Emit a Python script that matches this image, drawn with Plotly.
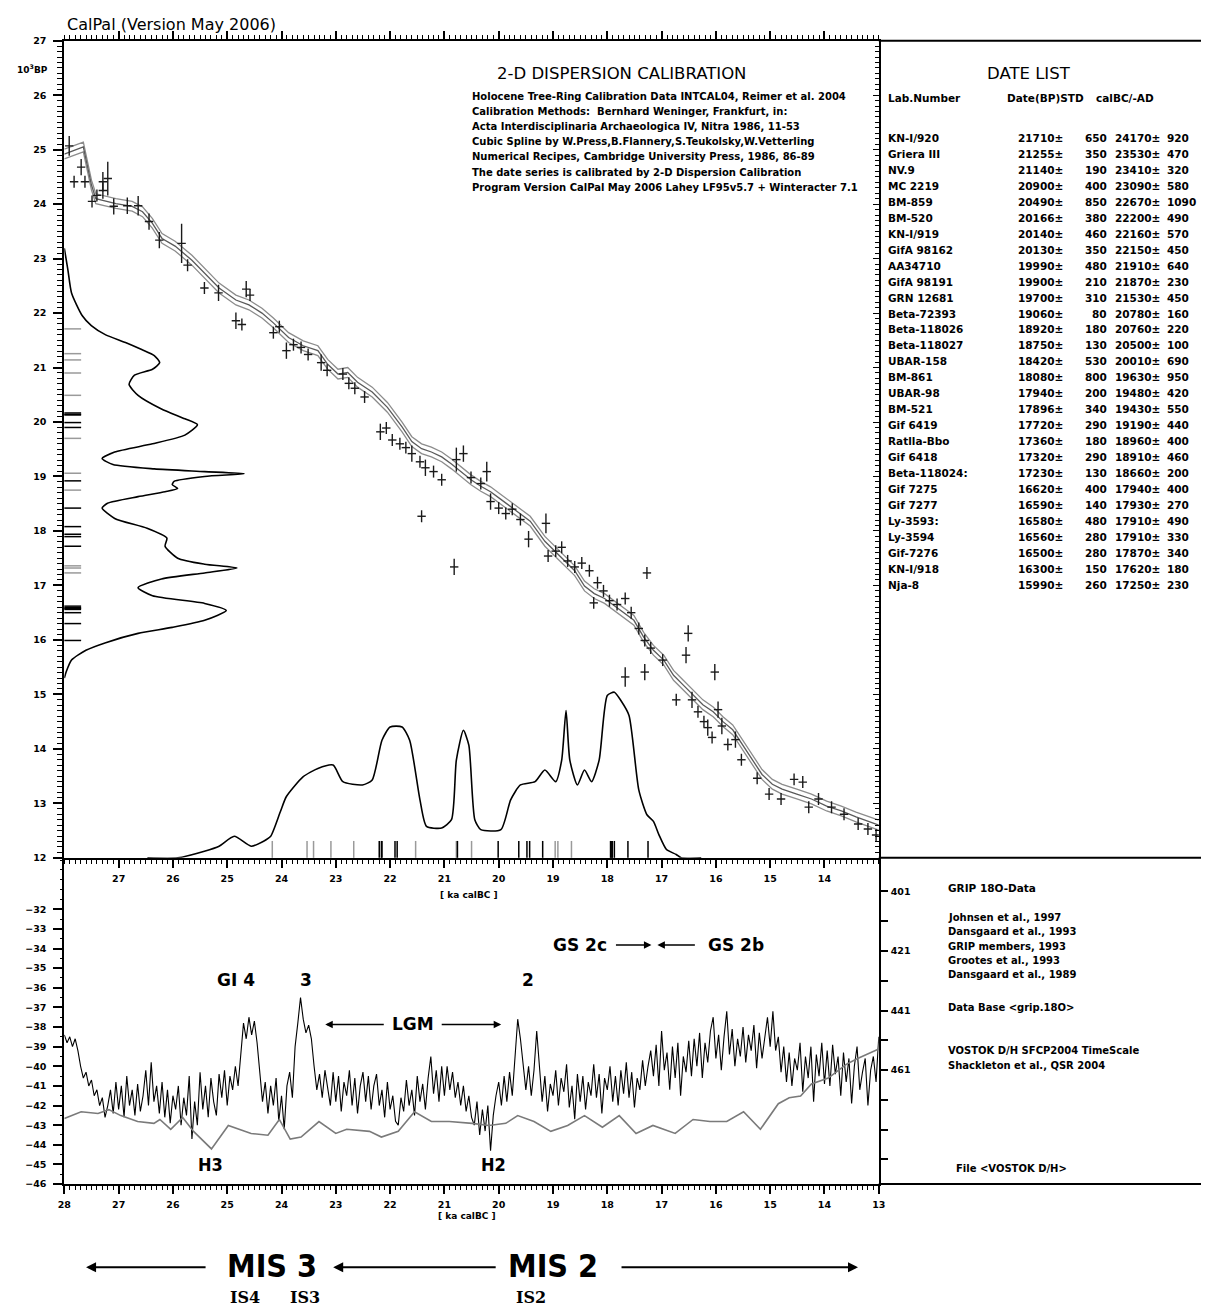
import plotly.graph_objects as go

W, H = 1208, 1315

# ---------------- data ----------------
# calibration curve (ka calBC -> 10^3 BP)
CURVE_CAL = [28.00, 27.80, 27.65, 27.50, 27.42, 27.05, 26.75, 26.56, 26.38, 26.20, 25.96, 25.65, 25.42,
             25.15, 24.84, 24.60, 24.36, 24.15, 23.87, 23.60, 23.33, 23.15, 22.96, 22.78, 22.60, 22.33,
             22.05, 21.78, 21.60, 21.42, 21.24, 21.05, 20.87, 20.69, 20.51, 20.33, 20.15, 19.96, 19.78,
             19.60, 19.42, 19.15, 18.96, 18.78, 18.60, 18.42, 18.24, 18.05, 17.87, 17.69, 17.51, 17.33,
             17.15, 16.96, 16.78, 16.60, 16.42, 16.24, 16.05, 15.87, 15.69, 15.51, 15.33, 15.15, 14.96,
             14.78, 14.51, 14.24, 13.96, 13.69, 13.42, 13.00]
CURVE_BP = [24.92, 25.00, 25.05, 24.35, 24.10, 24.01, 23.96, 23.86, 23.65, 23.37, 23.23, 22.97, 22.73,
            22.46, 22.24, 22.15, 22.00, 21.82, 21.55, 21.40, 21.31, 21.06, 20.88, 20.91, 20.73, 20.55,
            20.27, 19.91, 19.64, 19.51, 19.45, 19.36, 19.23, 19.09, 18.94, 18.82, 18.72, 18.58, 18.45,
            18.31, 18.18, 17.81, 17.63, 17.45, 17.27, 16.99, 16.85, 16.76, 16.63, 16.50, 16.36, 16.05,
            15.81, 15.63, 15.35, 15.17, 14.99, 14.81, 14.68, 14.50, 14.35, 14.08, 13.80, 13.53, 13.35,
            13.26, 13.17, 13.08, 12.95, 12.86, 12.75, 12.60]
CURVE_SIGMA = 0.09

# calibration data points
PT_CAL = [27.91, 27.82, 27.69, 27.62, 27.49, 27.40, 27.29, 27.29, 27.20, 27.09, 26.84, 26.64, 26.44, 26.25,
          25.84, 25.73, 25.42, 25.16, 24.84, 24.73, 24.65, 24.58, 24.15, 24.04, 23.91, 23.78, 23.64, 23.51,
          23.27, 23.16, 22.87, 22.76, 22.65, 22.47, 22.18, 22.07, 21.96, 21.82, 21.71, 21.60, 21.45, 21.35,
          21.20, 21.05, 20.78, 20.65, 20.51, 20.33, 20.22, 20.15, 20.00, 19.87, 19.75, 19.60, 19.45, 19.13,
          19.09, 18.95, 18.84, 18.73, 18.60, 18.47, 18.33, 18.18, 18.07, 18.25, 17.96, 17.82, 17.67, 17.56,
          17.42, 17.31, 17.20, 17.27, 16.98, 16.51, 16.55, 17.67, 17.31, 16.73, 16.44, 16.33, 16.22, 16.15,
          16.07, 16.02, 15.96, 15.89, 15.78, 15.64, 15.53, 15.24, 15.02, 14.80, 14.56, 14.40, 14.29, 14.11,
          13.87, 13.64, 13.38, 13.20, 13.05, 20.82, 21.42]
PT_BP = [25.07, 24.41, 24.68, 24.41, 24.05, 24.16, 24.25, 24.41, 24.47, 23.96, 23.97, 23.97, 23.68, 23.34,
         23.28, 22.88, 22.46, 22.37, 21.86, 21.79, 22.44, 22.33, 21.64, 21.75, 21.31, 21.42, 21.37, 21.24,
         21.09, 20.95, 20.88, 20.71, 20.62, 20.46, 19.82, 19.89, 19.67, 19.60, 19.53, 19.42, 19.27, 19.16,
         19.09, 18.94, 19.31, 19.42, 18.98, 18.87, 19.09, 18.54, 18.42, 18.32, 18.40, 18.21, 17.85, 18.14,
         17.54, 17.63, 17.70, 17.45, 17.34, 17.41, 17.27, 17.05, 16.90, 16.68, 16.72, 16.65, 16.76, 16.50,
         16.21, 15.99, 15.85, 17.23, 15.63, 16.12, 15.72, 15.32, 15.41, 14.90, 14.90, 14.68, 14.50, 14.39,
         14.21, 15.41, 14.72, 14.42, 14.08, 14.17, 13.80, 13.46, 13.17, 13.08, 13.44, 13.39, 12.93, 13.08,
         12.93, 12.80, 12.62, 12.53, 12.42, 17.34, 18.27]
PT_ERR = [0.18, 0.11, 0.15, 0.11, 0.11, 0.11, 0.15, 0.18, 0.31, 0.15, 0.15, 0.18, 0.15, 0.15,
          0.36, 0.11, 0.11, 0.15, 0.15, 0.11, 0.15, 0.11, 0.11, 0.11, 0.15, 0.11, 0.11, 0.11,
          0.15, 0.11, 0.11, 0.11, 0.11, 0.11, 0.15, 0.11, 0.11, 0.11, 0.11, 0.15, 0.11, 0.15,
          0.11, 0.11, 0.22, 0.15, 0.11, 0.11, 0.18, 0.15, 0.11, 0.11, 0.11, 0.11, 0.15, 0.18,
          0.11, 0.11, 0.11, 0.11, 0.11, 0.11, 0.11, 0.11, 0.11, 0.11, 0.11, 0.11, 0.11, 0.11,
          0.11, 0.11, 0.11, 0.11, 0.11, 0.15, 0.15, 0.18, 0.15, 0.11, 0.15, 0.11, 0.11, 0.15,
          0.11, 0.15, 0.15, 0.15, 0.11, 0.15, 0.11, 0.11, 0.11, 0.11, 0.11, 0.11, 0.11, 0.11,
          0.11, 0.11, 0.11, 0.11, 0.11, 0.15, 0.11]

# summed probability along the 14C axis (relative, %)
BPDENS_BP = [23.19, 22.79, 22.37, 21.95, 21.77, 21.60, 21.46, 21.33, 21.22, 21.09, 20.97, 20.86, 20.69, 20.49,
             20.24, 20.06, 19.95, 19.76, 19.60, 19.45, 19.33, 19.22, 19.14, 19.09, 19.05, 19.00, 18.91, 18.85,
             18.78, 18.72, 18.63, 18.51, 18.42, 18.23, 18.05, 17.87, 17.72, 17.50, 17.39, 17.32, 17.23, 17.12,
             16.96, 16.81, 16.67, 16.54, 16.36, 16.23, 16.12, 15.95, 15.81, 15.63, 15.41, 15.30]
BPDENS_P = [0, 2, 4, 10, 15, 23, 34, 43, 50, 53, 49, 39, 36, 41, 54, 67, 74, 67, 49, 28, 21, 27, 50, 78,
            100, 78, 61, 60, 63, 56, 41, 24, 21, 28, 46, 57, 56, 63, 78, 96, 78, 54, 41, 49, 78, 90, 78, 60,
            41, 23, 12, 4, 1, 0]

# summed calibrated probability (relative, %)
CALDENS_CAL = [26.47, 25.91, 25.42, 25.15, 24.87, 24.56, 24.33, 24.20, 24.02, 23.91, 23.60, 23.33, 23.05,
               22.87, 22.51, 22.33, 22.15, 22.00, 21.78, 21.64, 21.45, 21.33, 21.05, 20.87, 20.78, 20.65,
               20.55, 20.44, 20.33, 19.96, 19.78, 19.60, 19.33, 19.15, 18.95, 18.84, 18.76, 18.69, 18.55,
               18.42, 18.29, 18.15, 18.00, 17.87, 17.75, 17.60, 17.42, 17.27, 17.15, 17.05, 16.91, 16.73,
               16.64, 16.27]
CALDENS_P = [0, 0, 4, 7, 13, 7, 10, 13, 28, 37, 49, 54, 56, 46, 44, 47, 71, 79, 79, 71, 35, 19, 18, 23,
             59, 77, 68, 23, 17, 17, 35, 44, 46, 53, 46, 59, 89, 59, 44, 53, 46, 59, 98, 100, 95, 86, 41,
             26, 22, 14, 5, 2, 0, 0]

# date list
LAB = ["KN-I/920", "Griera III", "NV.9", "MC 2219", "BM-859", "BM-520", "KN-I/919", "GifA 98162",
       "AA34710", "GifA 98191", "GRN 12681", "Beta-72393", "Beta-118026", "Beta-118027", "UBAR-158",
       "BM-861", "UBAR-98", "BM-521", "Gif 6419", "Ratlla-Bbo", "Gif 6418", "Beta-118024:", "Gif 7275",
       "Gif 7277", "Ly-3593:", "Ly-3594", "Gif-7276", "KN-I/918", "Nja-8"]
BP = [21710, 21255, 21140, 20900, 20490, 20166, 20140, 20130, 19990, 19900, 19700, 19060, 18920, 18750,
      18420, 18080, 17940, 17896, 17720, 17360, 17320, 17230, 16620, 16590, 16580, 16560, 16500, 16300, 15990]
STD = [650, 350, 190, 400, 850, 380, 460, 350, 480, 210, 310, 80, 180, 130, 530, 800, 200, 340, 290, 180,
       290, 130, 400, 140, 480, 280, 280, 150, 260]
CAL = [24170, 23530, 23410, 23090, 22670, 22200, 22160, 22150, 21910, 21870, 21530, 20780, 20760, 20500,
       20010, 19630, 19480, 19430, 19190, 18960, 18910, 18660, 17940, 17930, 17910, 17910, 17870, 17620, 17250]
CALSTD = [920, 470, 320, 580, 1090, 490, 570, 450, 640, 230, 450, 160, 220, 100, 690, 950, 420, 550, 440,
          400, 460, 200, 400, 270, 490, 330, 340, 180, 230]
GREY = [1, 1, 1, 1, 1, 0, 0, 0, 0, 0, 1, 1, 0, 1, 0, 0, 0, 0, 0, 1, 1, 1, 0, 0, 0, 0, 0, 0, 0]

# GRIP d18O, sampled every 0.05 ka from 28.00 to 13.00 ka calBC
GRIP_START, GRIP_STEP = 28.0, 0.05
GRIP_D18O = [
    -38.4, -38.8, -38.5, -39.0, -38.6, -39.2,
    -40.0, -40.6, -40.3, -41.0, -40.7, -41.5, -41.2,
    -42.0, -41.6, -42.6, -42.0,
    -41.2, -42.4, -40.8, -42.2, -41.0, -42.6, -40.5, -42.0, -41.2, -42.5, -40.9, -42.3, -41.5, -40.2,
    -42.0, -39.8, -41.8, -41.0, -42.4, -40.8, -42.6, -41.2, -42.9, -41.5, -42.2, -41.0, -43.0, -41.6,
    -42.5, -40.5, -43.7, -41.8, -43.0, -40.3, -42.2, -41.0, -42.6, -40.6, -41.8, -42.5, -40.4, -41.6,
    -40.2, -42.0, -40.5, -41.2, -40.0, -41.0, -39.5,
    -37.8, -38.6, -37.5, -38.4, -37.7, -38.8,
    -40.5, -41.8, -40.8, -42.4, -41.0, -42.0, -40.6, -42.8, -41.5, -43.2, -41.0, -40.3, -41.6,
    -39.0, -37.8, -36.5, -37.6, -38.3, -37.9, -38.6,
    -40.0, -41.2, -40.4, -41.6, -40.2, -41.0,
    -42.0, -40.3, -41.8, -40.5, -42.3, -40.8, -41.5, -40.2, -42.0, -40.6,
    -42.4, -41.0, -40.3, -41.8, -40.5, -42.2, -41.0, -40.4, -42.0, -41.2,
    -42.6, -40.8, -42.2, -41.5, -42.8, -43.0, -41.6, -42.3, -40.7, -42.0,
    -41.2, -42.5, -40.5, -41.8, -40.9, -42.2, -40.6, -39.5, -41.4, -40.2,
    -41.8, -40.0, -41.5, -40.0, -41.2, -40.3, -41.6, -40.8, -42.0, -41.0,
    -42.3, -41.5, -42.6,
    -43.0, -41.8, -43.5, -42.2, -43.3, -42.0, -44.3, -42.5, -41.5, -40.8,
    -42.0, -40.5, -41.8, -40.3, -41.5,
    -39.5, -37.6, -38.6, -40.0,
    -41.2, -40.0, -41.5, -40.2, -38.2, -40.0,
    -41.8, -40.5, -42.3, -40.9, -41.5, -40.2, -42.0, -40.6, -41.3, -39.9,
    -42.1, -41.0, -42.7, -40.4, -41.8, -40.5, -42.2, -40.8, -41.5, -39.9,
    -41.6, -40.4, -42.4, -40.6, -41.2, -40.0, -41.8, -40.5, -42.0, -40.2,
    -41.4, -39.8, -41.6, -40.3, -42.1, -40.6, -41.2, -39.7, -41.0,
    -40.0, -39.2, -40.5, -38.9, -41.0, -38.2, -40.2, -39.3, -41.2, -39.0, -40.6, -38.8, -41.5, -39.5,
    -40.3, -38.7,
    -40.5, -38.6, -40.0, -38.3, -40.6, -38.8, -39.8, -38.2, -37.5, -39.6, -38.4, -40.2, -38.5, -37.2,
    -39.4, -38.1, -40.0, -38.6, -39.5, -38.0, -39.8, -38.4, -39.2, -37.9, -40.1, -38.3, -39.6, -38.5,
    -37.5, -39.0, -37.2,
    -39.2, -38.5, -40.3, -39.0, -40.8, -39.3, -41.0, -39.6, -40.2, -38.8, -41.3, -39.5, -40.6, -39.0,
    -41.8, -39.4, -40.5, -38.8, -40.9, -39.2, -41.0, -38.9, -40.4, -39.5, -41.5, -39.3, -40.8,
    -39.6, -41.9, -40.0, -39.0, -41.2, -40.3, -39.6, -42.0, -40.2, -39.5, -40.8, -38.5,
]

# Vostok deuterium (right axis)
VOSTOK_AGE = [28.00, 27.69, 27.38, 27.18, 26.96, 26.65, 26.35, 26.24, 26.04, 25.82, 25.62, 25.29, 24.98,
              24.56, 24.25, 24.04, 23.84, 23.64, 23.31, 23.00, 22.80, 22.38, 22.16, 21.85, 21.55, 21.24,
              20.91, 20.49, 20.18, 19.87, 19.65, 19.35, 19.04, 18.73, 18.42, 18.09, 17.78, 17.47, 17.16,
              16.75, 16.42, 16.11, 15.80, 15.49, 15.18, 14.85, 14.65, 14.44, 14.24, 13.93, 13.60, 13.40, 13.00]
VOSTOK_DD = [-477.3, -475.0, -475.6, -474.3, -476.3, -478.3, -478.9, -477.6, -480.9, -476.9, -481.6, -487.5,
             -479.6, -482.3, -482.9, -477.6, -484.2, -483.5, -478.3, -482.3, -480.9, -481.6, -483.5, -481.6,
             -475.0, -478.3, -478.3, -478.9, -479.6, -478.9, -476.3, -478.3, -481.6, -479.6, -476.3, -480.2,
             -476.3, -482.3, -479.6, -482.3, -477.6, -478.3, -478.3, -475.0, -480.9, -472.3, -470.3, -469.7,
             -465.7, -463.7, -459.1, -457.2, -453.9]

TOP_X_TICKS = list(range(27, 13, -1))
TOP_Y_TICKS = list(range(12, 28))
BOT_X_TICKS = list(range(28, 12, -1))
BOT_Y_TICKS = list(range(-32, -47, -1))
VOS_TICKS = [-401, -411, -421, -431, -441, -451, -461, -471, -481, -491]
VOS_TEXT = ["401", " ", "421", " ", "441", " ", "461", " ", " ", " "]

HEADER_LINES = [
    "Holocene Tree-Ring Calibration Data INTCAL04, Reimer et al. 2004",
    "Calibration Methods:  Bernhard Weninger, Frankfurt, in:",
    "Acta Interdisciplinaria Archaeologica IV, Nitra 1986, 11-53",
    "Cubic Spline by W.Press,B.Flannery,S.Teukolsky,W.Vetterling",
    "Numerical Recipes, Cambridge University Press, 1986, 86-89",
    "The date series is calibrated by 2-D Dispersion Calibration",
    "Program Version CalPal May 2006 Lahey LF95v5.7 + Winteracter 7.1",
]
GRIP_REFS = ["Johnsen et al., 1997", "Dansgaard et al., 1993", "GRIP members, 1993",
             "Grootes et al., 1993", "Dansgaard et al., 1989"]

# ---------------- helpers ----------------
def fx(px):
    return px / W

def fy(py):
    return 1 - py / H

SANS = "DejaVu Sans"
NARROW = "Liberation Sans Narrow, DejaVu Sans Condensed, Arial Narrow, DejaVu Sans"
SERIF = "DejaVu Serif"
TICKFONT = dict(family=SANS, size=9.5, color="black", weight="bold")

annotations = []
shapes = []

def txt(s, x, y, size, family=SANS, bold=True, xanchor="left", color="black"):
    annotations.append(dict(text=s, x=fx(x), y=fy(y), xref="paper", yref="paper", xanchor=xanchor,
                            yanchor="middle", showarrow=False,
                            font=dict(family=family, size=size, color=color,
                                      weight="bold" if bold else "normal")))

def arrow(hx, hy, tx, ty, width=1.5, size=1.0):
    annotations.append(dict(text="", x=fx(hx), y=fy(hy), xref="paper", yref="paper",
                            ax=tx - hx, ay=ty - hy, axref="pixel", ayref="pixel", showarrow=True,
                            arrowhead=2, arrowsize=size, arrowwidth=width, arrowcolor="black", standoff=0,
                            startstandoff=0))

def pline(x0, y0, x1, y1, width=2, color="black"):
    shapes.append(dict(type="line", xref="paper", yref="paper", x0=fx(x0), y0=fy(y0), x1=fx(x1), y1=fy(y1),
                       line=dict(color=color, width=width)))

# ---------------- figure ----------------
fig = go.Figure()

# calibration band
upper = [b + CURVE_SIGMA for b in CURVE_BP]
lower = [b - CURVE_SIGMA for b in CURVE_BP]
for ys, col in ((upper, "#8c8c8c"), (lower, "#8c8c8c"), (CURVE_BP, "#5a5a5a")):
    fig.add_trace(go.Scatter(x=CURVE_CAL, y=ys, mode="lines", line=dict(color=col, width=1.3),
                             xaxis="x", yaxis="y", hoverinfo="skip"))

# data points
fig.add_trace(go.Scatter(x=PT_CAL, y=PT_BP, mode="markers", xaxis="x", yaxis="y",
                         marker=dict(symbol="line-ew", size=6, line=dict(color="#1a1a1a", width=1.4)),
                         error_y=dict(type="data", array=PT_ERR, visible=True, thickness=1.4, width=0,
                                      color="#1a1a1a")))

# density along 14C axis
fig.add_trace(go.Scatter(x=BPDENS_P, y=BPDENS_BP, mode="lines", line=dict(color="black", width=1.6,
                         shape="spline", smoothing=0.6), xaxis="x3", yaxis="y"))
# calibrated density
fig.add_trace(go.Scatter(x=CALDENS_CAL, y=CALDENS_P, mode="lines", line=dict(color="black", width=1.6,
                         shape="spline", smoothing=0.6), xaxis="x", yaxis="y3"))
# dummy for right inner ticks
fig.add_trace(go.Scatter(x=[None], y=[None], xaxis="x", yaxis="y4", mode="lines"))

# GRIP and Vostok
grip_age = [round(GRIP_START - GRIP_STEP * i, 2) for i in range(len(GRIP_D18O))]
fig.add_trace(go.Scatter(x=VOSTOK_AGE, y=VOSTOK_DD, mode="lines", line=dict(color="#7a7a7a", width=1.6),
                         xaxis="x2", yaxis="y5"))
fig.add_trace(go.Scatter(x=grip_age, y=GRIP_D18O, mode="lines", line=dict(color="black", width=1.1),
                         xaxis="x2", yaxis="y2"))

# rug ticks of the dates
for b, c, g in zip(BP, CAL, GREY):
    col = "#9a9a9a" if g else "black"
    shapes.append(dict(type="line", xref="x domain", yref="y", x0=0, x1=17 / 824, y0=b / 1000, y1=b / 1000,
                       line=dict(color=col, width=1.5)))
    shapes.append(dict(type="line", xref="x", yref="y domain", x0=c / 1000, x1=c / 1000, y0=0, y1=17 / 824,
                       line=dict(color=col, width=1.5)))

# frame lines of the side panels
pline(882, 35, 1208, 35)
pline(882, 859, 1208, 859)
pline(882, 1188, 1208, 1188)

# ---------------- texts ----------------
txt("CalPal (Version May 2006)", 59, 19, 16, bold=False)
txt("10<sup>3</sup>BP", 44, 64, 9, xanchor="right")
txt("2-D DISPERSION CALIBRATION", 622, 68, 16.5, bold=False, xanchor="center")
for i, line in enumerate(HEADER_LINES):
    txt(line, 468, 91 + 15.3 * i, 10)

txt("DATE LIST", 1034, 68, 16.5, bold=False, xanchor="center")
txt("Lab.Number", 889, 93, 10.5)
txt("Date(BP)STD", 1010, 93, 10.5)
txt("calBC/-AD", 1100, 93, 10.5)
for i in range(len(LAB)):
    yy = 133 + 16.1 * i
    txt(LAB[i], 889, yy, 10.5)
    txt(f"{BP[i]}\u00b1", 1070, yy, 10.5, xanchor="right")
    txt(f"{STD[i]}", 1115, yy, 10.5, xanchor="right")
    txt(f"{CAL[i]}\u00b1", 1169, yy, 10.5, xanchor="right")
    txt(f"{CALSTD[i]}", 1172, yy, 10.5)

txt("[ ka calBC ]", 467, 896, 9, xanchor="center")
txt("[ ka calBC ]", 465, 1220, 9, xanchor="center")

txt("GRIP 18O-Data", 950, 889, 10.5)
for i, r in enumerate(GRIP_REFS):
    txt(r, 950, 919 + 14.5 * i, 10)
txt("Data Base &lt;grip.18O&gt;", 950, 1010, 10)
txt("VOSTOK D/H SFCP2004 TimeScale", 950, 1053, 10)
txt("Shackleton et al., QSR 2004", 950, 1068, 10)
txt("File &lt;VOSTOK D/H&gt;", 958, 1172, 10)

# event labels in the GRIP panel
txt("GI 4", 232, 982, 17, xanchor="center")
txt("3", 302, 982, 17, xanchor="center")
txt("2", 527, 982, 17, xanchor="center")
txt("LGM", 411, 1027, 17, xanchor="center")
arrow(322, 1027, 382, 1027)
arrow(500, 1027, 439, 1027)
txt("GS 2c", 580, 947, 17, xanchor="center")
txt("GS 2b", 738, 947, 17, xanchor="center")
arrow(652, 947, 615, 947)
arrow(658, 947, 697, 947)
txt("H3", 206, 1168, 18, family=NARROW, xanchor="center")
txt("H2", 492, 1168, 18, family=NARROW, xanchor="center")

# marine isotope stages
txt("MIS 3", 268, 1271, 32, family=NARROW, xanchor="center")
txt("MIS 2", 552, 1271, 32, family=NARROW, xanchor="center")
arrow(80, 1272, 201, 1272, width=2)
arrow(330, 1272, 494, 1272, width=2)
arrow(861, 1272, 623, 1272, width=2)
txt("IS4", 241, 1302, 16, family=SERIF, xanchor="center")
txt("IS3", 301, 1302, 16, family=SERIF, xanchor="center")
txt("IS2", 530, 1302, 16, family=SERIF, xanchor="center")

# ---------------- axes ----------------
common_line = dict(showline=True, linecolor="black", linewidth=2, showgrid=False, zeroline=False)
fig.update_layout(
    width=W, height=H, margin=dict(l=0, r=0, t=0, b=0), paper_bgcolor="white", plot_bgcolor="white",
    showlegend=False,
    xaxis=dict(domain=[fx(58), fx(882)], range=[28, 13], anchor="y", tickmode="array", tickvals=TOP_X_TICKS,
               ticks="outside", ticklen=8, tickwidth=1.5, tickcolor="black", mirror="ticks",
               minor=dict(dtick=0.1, ticks="outside", ticklen=4, tickwidth=1, tickcolor="black"),
               tickfont=TICKFONT, ticklabelstandoff=3, **common_line),
    yaxis=dict(domain=[fy(859), fy(35)], range=[12, 27], anchor="x", tickmode="array", tickvals=TOP_Y_TICKS,
               ticks="outside", ticklen=9, tickwidth=1.5, tickcolor="black",
               minor=dict(dtick=0.1, ticks="outside", ticklen=5, tickwidth=1, tickcolor="black"),
               tickfont=TICKFONT, ticklabelstandoff=5, **common_line),
    xaxis3=dict(overlaying="x", anchor="y", range=[0, 452.7], visible=False),
    yaxis3=dict(overlaying="y", anchor="x", range=[0, 493.4], visible=False),
    yaxis4=dict(overlaying="y", anchor="x", side="right", range=[12, 27], tickmode="array",
                tickvals=TOP_Y_TICKS, ticks="inside", ticklen=6, tickcolor="black", showticklabels=False,
                minor=dict(dtick=0.1, ticks="inside", ticklen=4, tickcolor="black"), **common_line),
    xaxis2=dict(domain=[fx(58), fx(882)], range=[28, 13], anchor="y2", tickmode="array",
                tickvals=BOT_X_TICKS, ticks="outside", ticklen=8, tickwidth=1.5, tickcolor="black",
                minor=dict(dtick=0.1, ticks="outside", ticklen=4, tickwidth=1, tickcolor="black"),
                tickfont=TICKFONT, ticklabelstandoff=3, **common_line),
    yaxis2=dict(domain=[fy(1188), fy(859)], range=[-46, -29.38], anchor="x2", tickmode="array",
                tickvals=BOT_Y_TICKS, ticks="outside", ticklen=9, tickwidth=1.5, tickcolor="black",
                minor=dict(dtick=0.5, ticks="outside", ticklen=2, tickwidth=1, tickcolor="black"),
                tickfont=TICKFONT, ticklabelstandoff=5, **common_line),
    yaxis5=dict(overlaying="y2", anchor="x2", side="right", range=[-499.3, -389.7], tickmode="array",
                tickvals=VOS_TICKS, ticktext=VOS_TEXT, ticks="outside", ticklen=7, tickwidth=1.5,
                tickcolor="black", tickfont=TICKFONT, ticklabelstandoff=1, **common_line),
    annotations=annotations,
    shapes=shapes,
)

fig.write_html("out.html", config={"displayModeBar": False},
               post_script="document.body.style.margin='0';document.body.style.padding='0';")
